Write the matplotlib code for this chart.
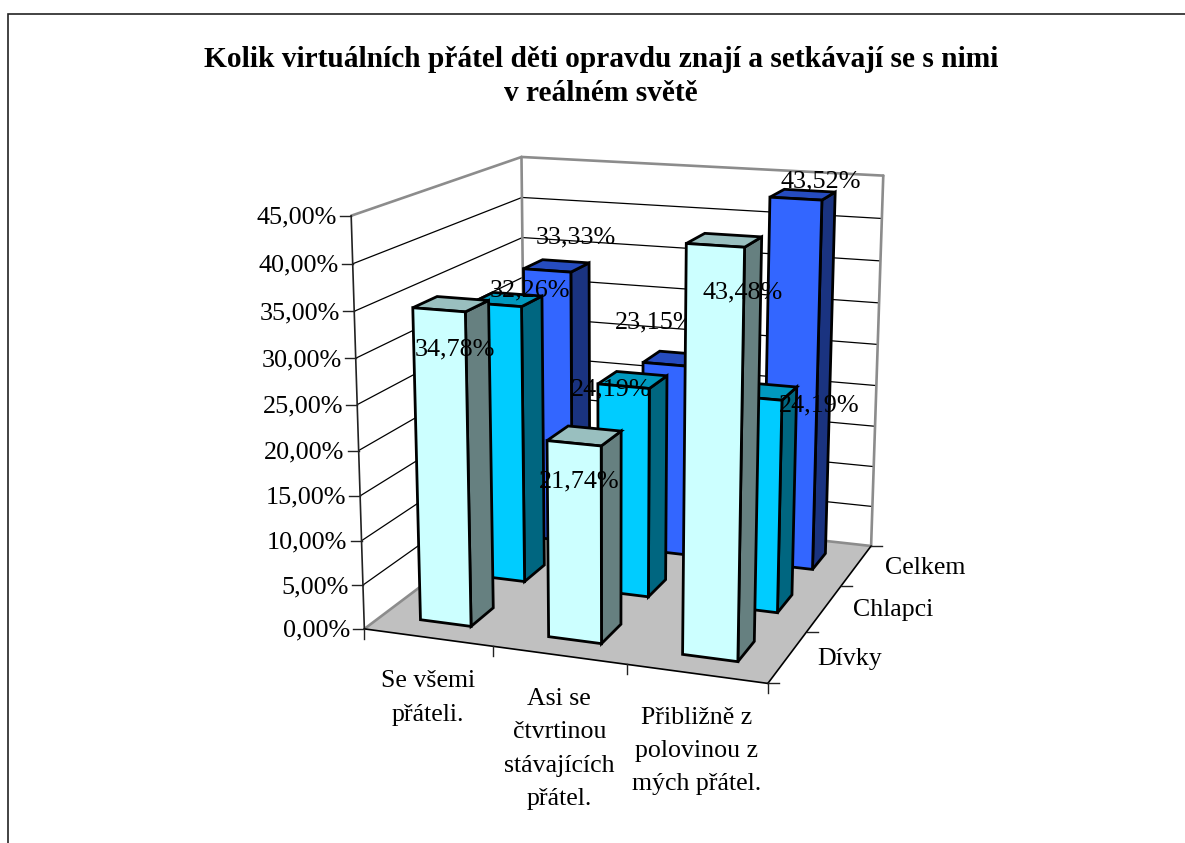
import numpy as np
import matplotlib
matplotlib.use("Agg")
import matplotlib.pyplot as plt
from matplotlib.patches import Polygon

plt.rcParams['font.family'] = ['Liberation Serif', 'DejaVu Serif']

title = "Kolik virtuálních přátel děti opravdu znají a setkávají se s nimi\nv reálném světě"
categories = ["Se všemi\npřáteli.", "Asi se\nčtvrtinou\nstávajících\npřátel.", "Přibližně z\npolovinou z\nmých přátel."]
series_names = ["Dívky", "Chlapci", "Celkem"]
divky = [34.78, 21.74, 43.48]
chlapci = [32.26, 24.19, 24.19]
celkem = [33.33, 23.15, 43.52]
value_ticks = [0, 5, 10, 15, 20, 25, 30, 35, 40, 45]

series_values = [divky, chlapci, celkem]
n_cat, n_ser = 3, 3

# style: front, top, side
series_colors = [("#CCFFFF", "#99BFBF", "#668080"),
                 ("#00CCFF", "#0099BF", "#006680"),
                 ("#3366FF", "#264CBF", "#1A3380")]
# label displacement from the top of each bar, pixels [series][category]
label_offsets = [[(4, 45), (-5, 46), (18, 52)],
                 [(23, -9), (-22, 10), (56, 14)],
                 [(19, -28), (-20, -36), (18, -13)]]

# camera: projective map fitted to the visible box corners (weighted) and bar corners
anchors_3d = np.array([(0, 0, 0), (3, 0, 0), (3, 3, 0), (0, 3, 0),
                       (0, 0, 45), (0, 3, 45), (3, 3, 45),
                       (2.3, .3, 43.48), (2.7, .3, 43.48), (2.3, .3, 0), (2.7, .3, 0),
                       (.3, .3, 34.78), (.7, .3, 34.78), (.3, .3, 0), (.7, .3, 0),
                       (2.3, 2.3, 43.52), (2.7, 2.3, 43.52), (2.3, 2.3, 0), (2.7, 2.3, 0)], float)
anchors_px = np.array([(366, 628), (767, 685), (871, 544), (523, 509),
                       (350, 215), (523, 157), (883, 176),
                       (683.3, 244.3), (743, 249), (681.7, 655), (737, 662),
                       (412.7, 308), (466, 312), (421.7, 618), (471.7, 625.7),
                       (769.3, 197.7), (821, 201), (793, 565.7), (812.3, 569)], float)
A, b = [], []
for k, ((X, Y, Z), (u, v)) in enumerate(zip(anchors_3d, anchors_px)):
    w = 4.0 if k < 7 else 1.0
    A.append([w*q for q in [X, Y, Z, 1, 0, 0, 0, 0, -u*X, -u*Y, -u*Z]]); b.append(w*u)
    A.append([w*q for q in [0, 0, 0, 0, X, Y, Z, 1, -v*X, -v*Y, -v*Z]]); b.append(w*v)
p = np.linalg.lstsq(np.array(A), np.array(b), rcond=None)[0]
P = np.append(p, 1).reshape(3, 4)


def pr(x, y, z):
    h = P @ np.array([x, y, z, 1.0])
    return h[0]/h[2], h[1]/h[2]


fig = plt.figure(figsize=(11.85, 8.43), dpi=100)
ax = fig.add_axes([0, 0, 1, 1])
ax.set_xlim(0, 1185)
ax.set_ylim(843, 0)
ax.axis("off")

# chart frame
ax.plot([8, 8, 1185], [843, 14, 14], color="#222222", lw=1.2, solid_joinstyle="miter")


def poly(pts, fc, ec="black", lw=1.6, z=1):
    ax.add_patch(Polygon([pr(*q) for q in pts], closed=True, fc=fc, ec=ec, lw=lw, zorder=z, joinstyle="miter"))


def line(a, b_, color="black", lw=1.0, z=2):
    pa, pb = pr(*a), pr(*b_)
    ax.plot([pa[0], pb[0]], [pa[1], pb[1]], color=color, lw=lw, zorder=z, solid_capstyle="round")


# floor
poly([(0, 0, 0), (3, 0, 0), (3, 3, 0), (0, 3, 0)], "#C0C0C0", ec="none", z=1)
# gridlines
for v in value_ticks[1:-1]:
    line((0, 0, v), (0, 3, v), "black", 0.9)
    line((0, 3, v), (3, 3, v), "black", 0.9)
# wall edges
GR = "#8C8C8C"
for a, c in [((0, 0, 45), (0, 3, 45)), ((0, 3, 45), (3, 3, 45)), ((0, 3, 0), (0, 3, 45)),
             ((3, 3, 0), (3, 3, 45)), ((0, 0, 0), (0, 3, 0)), ((0, 3, 0), (3, 3, 0))]:
    line(a, c, GR, 1.9, 3)
# axes
line((0, 0, 0), (0, 0, 45), "#222222", 1.2, 4)
line((0, 0, 0), (3, 0, 0), "black", 1.2, 4)
line((3, 0, 0), (3, 3, 0), "black", 1.2, 4)
for v in value_ticks:
    x0, y0 = pr(0, 0, v)
    ax.plot([x0 - 11, x0], [y0, y0], color="#222222", lw=1.0, zorder=4)
    ax.text(x0 - 14, y0 + 2, f"{v:.2f}".replace(".", ",") + "%", ha="right", va="center", fontsize=18.8, color="black")
for i in range(n_cat + 1):
    x0, y0 = pr(i, 0, 0)
    ax.plot([x0, x0], [y0, y0 + 10], color="#222222", lw=1.0, zorder=4)
for j in range(n_ser + 1):
    x0, y0 = pr(3, j, 0)
    ax.plot([x0, x0 + 11], [y0, y0], color="#222222", lw=1.0, zorder=4)
for i, name in enumerate(categories):
    x0, y0 = pr(i + 0.5, 0, 0)
    ax.text(x0, y0 + 33, name, ha="center", va="top", fontsize=18.6, linespacing=1.66, color="black")
for j, name in enumerate(series_names):
    x0, y0 = pr(3, j + 0.5, 0)
    ax.text(x0 + 29, y0 + 2, name, ha="left", va="center", fontsize=18.6, color="black")

# bars, far series first; each series' labels sit on its own bars, under nearer series
W = 0.4
zo = 10
for j in reversed(range(n_ser)):
    front, top, side = series_colors[j]
    for i in reversed(range(n_cat)):
        v = series_values[j][i]
        x0, x1 = i + 0.5 - W/2, i + 0.5 + W/2
        y0, y1 = j + 0.5 - W/2, j + 0.5 + W/2
        poly([(x1, y0, 0), (x1, y1, 0), (x1, y1, v), (x1, y0, v)], side, lw=2.0, z=zo)
        poly([(x0, y0, v), (x1, y0, v), (x1, y1, v), (x0, y1, v)], top, lw=2.0, z=zo)
        poly([(x0, y0, 0), (x1, y0, 0), (x1, y0, v), (x0, y0, v)], front, lw=2.0, z=zo)
        zo += 1
    for i in range(n_cat):
        v = series_values[j][i]
        x0, y0 = pr(i + 0.5, j + 0.5, v)
        dx, dy = label_offsets[j][i]
        ax.text(x0 + dx, y0 + dy, f"{v:.2f}".replace(".", ",") + "%", ha="center", va="center",
                fontsize=18.8, color="black", zorder=zo)
    zo += 1

ax.text(601, 76.5, title, ha="center", va="center", fontsize=21.2, fontweight="bold", linespacing=1.38, color="black", zorder=100)

fig.savefig("out.png", dpi=100)
